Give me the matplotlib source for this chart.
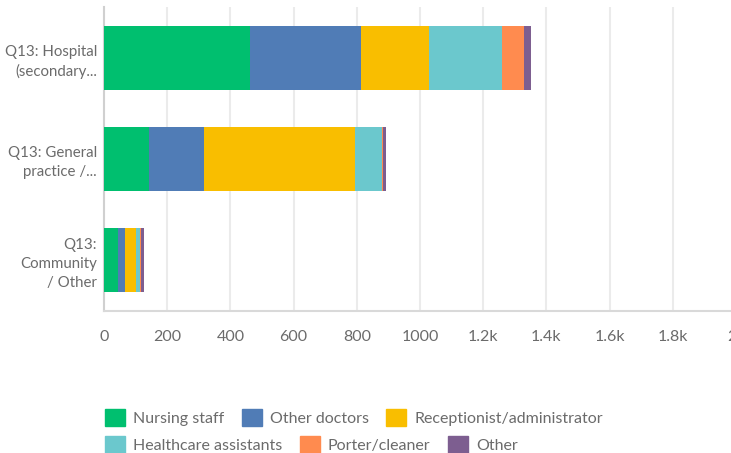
import matplotlib.pyplot as plt
from matplotlib.patches import Patch
import numpy as np

plt.rcParams['font.family'] = ['Lato', 'DejaVu Sans']

categories = ["Q13: Hospital\n(secondary...", "Q13: General\npractice /...", "Q13:\nCommunity\n/ Other"]
series = ["Nursing staff", "Other doctors", "Receptionist/administrator",
          "Healthcare assistants", "Porter/cleaner", "Other"]
nursing = [463, 141, 43]
doctors = [349, 174, 22]
reception = [215, 478, 35]
hca = [234, 88, 15]
porter = [67, 2, 1]
other = [22, 8, 9]
colors = ["#00bf6f", "#507cb6", "#f9be00", "#6bc8cd", "#ff8b4f", "#7d5e90"]

values = [nursing, doctors, reception, hca, porter, other]
text_col = "#6b6b6b"

fig = plt.figure(figsize=(7.31, 4.53), dpi=100)
ax = fig.add_axes([104 / 731, 1 - 311 / 453, 632 / 731, 304 / 453])

y = np.arange(len(categories))
left = np.zeros(len(categories))
for vals, c, name in zip(values, colors, series):
    ax.barh(y, vals, left=left, height=0.63, color=c, label=name, zorder=3)
    left += np.array(vals)

ax.set_ylim(2.5, -0.5)
ax.set_xlim(0, 2000)
ax.set_xticks(range(0, 2001, 200))
ax.set_xticklabels(["0", "200", "400", "600", "800", "1000", "1.2k", "1.4k", "1.6k", "1.8k", "2k"])
ax.set_yticks(y)
ax.set_yticklabels(categories, ha="right", multialignment="right", linespacing=1.45)
ax.grid(axis="x", color="#ebebeb", linewidth=1.5, zorder=0)
for s in ["top", "right"]:
    ax.spines[s].set_visible(False)
ax.spines["left"].set_color("#d0d0d0")
ax.spines["left"].set_linewidth(1.5)
ax.spines["bottom"].set_color("#d9d9d9")
ax.spines["bottom"].set_linewidth(1.5)
ax.tick_params(axis="both", length=0, labelsize=11.5, labelcolor=text_col)
ax.tick_params(axis="y", labelsize=10.8, pad=5)
ax.tick_params(axis="x", pad=14)

handles = [Patch(facecolor=c, edgecolor=c) for c in colors]
for row, ypix in [(slice(0, 3), 401), (slice(3, 6), 428)]:
    fig.legend(handles[row], series[row], ncol=3, loc="upper left",
               bbox_to_anchor=(97 / 731, 1 - ypix / 453), frameon=False,
               fontsize=11.5, labelcolor=text_col, handlelength=1.25, handleheight=1.25,
               handletextpad=0.5, columnspacing=1.1, borderpad=0)

fig.savefig("out.png", dpi=100)
